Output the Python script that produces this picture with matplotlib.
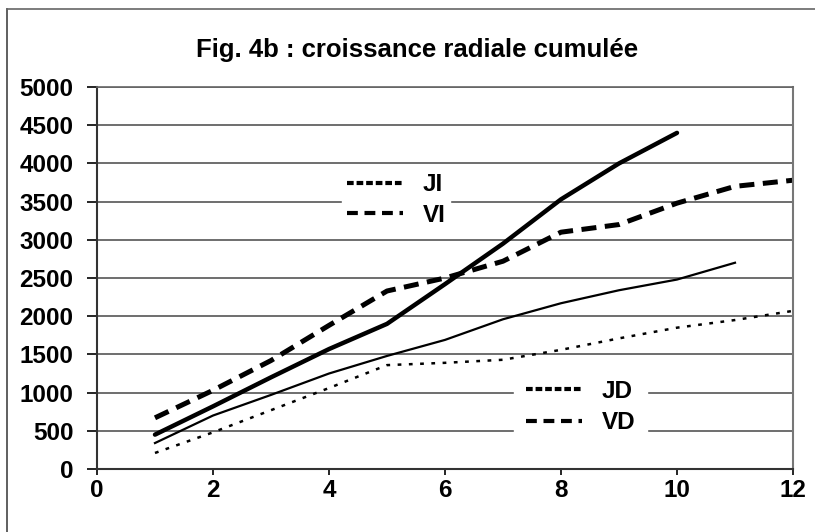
import matplotlib
matplotlib.use("Agg")
from matplotlib import pyplot as plt
from matplotlib.lines import Line2D

# cumulative radial growth
x_i = [1, 2, 3, 4, 5, 6, 7, 8, 9, 10]
ji = [450, 820, 1200, 1570, 1900, 2420, 2950, 3530, 4000, 4400]

x_vi = [1, 2, 3, 4, 5, 6, 7, 8, 9, 10, 11, 12]
vi = [670, 1030, 1420, 1880, 2330, 2500, 2720, 3100, 3200, 3480, 3700, 3780]

x_jd = [1, 2, 3, 4, 5, 6, 7, 8, 9, 10, 11]
jd = [340, 700, 970, 1250, 1480, 1690, 1960, 2170, 2340, 2480, 2700]

x_vd = [1, 2, 3, 4, 5, 6, 7, 8, 9, 10, 11, 12]
vd = [210, 480, 770, 1060, 1360, 1390, 1430, 1560, 1710, 1850, 1950, 2070]

title = "Fig. 4b : croissance radiale cumulée"
xticks = [0, 2, 4, 6, 8, 10, 12]
yticks = list(range(0, 5001, 500))

plt.rcParams["font.family"] = ["Liberation Sans", "DejaVu Sans"]
plt.rcParams["font.weight"] = "bold"

fig = plt.figure(figsize=(8.15, 5.32), dpi=100)
ax = fig.add_axes([0.119, 0.1184, 0.854, 0.718])

# scanned frame (only top and left edges visible)
fig.add_artist(Line2D([7/815, 7/815], [0, 1 - 9/532], color="#444444", lw=1.2))
fig.add_artist(Line2D([7/815, 1], [1 - 9/532, 1 - 9/532], color="#666666", lw=1.2))

ax.plot(x_i, ji, color="black", lw=3.2, solid_capstyle="round")
ax.plot(x_vi, vi, color="black", lw=3.6, linestyle=(0, (3, 1.7)))
ax.plot(x_jd, jd, color="black", lw=1.6)
ax.plot(x_vd, vd, color="black", lw=1.8, linestyle=(0, (1.5, 3)))

ax.set_xlim(0, 12)
ax.set_ylim(0, 5000)
ax.set_xticks(xticks)
ax.set_yticks(yticks)
ax.tick_params(axis="y", length=7, width=1.2, pad=10, labelsize=17.5)
ax.tick_params(axis="x", length=4.5, width=1.2, pad=3, labelsize=17.5)
for lab in ax.get_xticklabels() + ax.get_yticklabels():
    lab.set_fontweight("bold")

ax.grid(axis="y", color="#555555", lw=1.2)
ax.set_axisbelow(True)
ax.spines["left"].set_color("#333333")
ax.spines["left"].set_linewidth(1.5)
ax.spines["bottom"].set_color("#333333")
ax.spines["bottom"].set_linewidth(1.5)
ax.spines["right"].set_color("#777777")
ax.spines["right"].set_linewidth(1.5)
ax.spines["top"].set_color("#666666")
ax.spines["top"].set_linewidth(1.2)

fig.text(0.512, 1 - 50/532, title, ha="center", va="center",
         fontsize=18.5, fontweight="bold")

# two separate legend boxes, white background that hides the gridlines
h_ji = Line2D([], [], color="black", lw=3, linestyle=(0, (1.6, 0.7)))
h_vi = Line2D([], [], color="black", lw=3, linestyle=(0, (2.6, 1.6)))
leg1 = ax.legend([h_ji, h_vi], ["JI", "VI"], loc="center",
                 bbox_to_anchor=(0.43, 0.704), frameon=True, fancybox=False,
                 edgecolor="white", facecolor="white", framealpha=1,
                 handlelength=2.3, handletextpad=0.8, labelspacing=0.3,
                 borderpad=0.2, borderaxespad=0,
                 prop={"size": 17.5, "weight": "bold"})
ax.add_artist(leg1)

h_jd = Line2D([], [], color="black", lw=3, linestyle=(0, (1.6, 0.7)))
h_vd = Line2D([], [], color="black", lw=3, linestyle=(0, (2.6, 1.6)))
ax.legend([h_jd, h_vd], ["JD", "VD"], loc="center",
          bbox_to_anchor=(0.695, 0.162), frameon=True, fancybox=False,
          edgecolor="white", facecolor="white", framealpha=1,
          handlelength=2.3, handletextpad=0.8, labelspacing=0.35,
          borderpad=0.5, borderaxespad=0,
          prop={"size": 17.5, "weight": "bold"})

fig.savefig("out.png", dpi=100)
